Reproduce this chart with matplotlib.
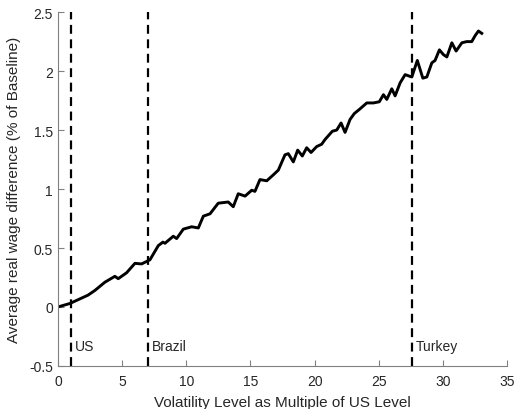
import matplotlib
matplotlib.use("Agg")
import matplotlib.pyplot as plt

plt.rcParams['font.family'] = ['Liberation Sans', 'DejaVu Sans']

x_vals = [0.00, 0.94, 2.34, 2.88, 3.66, 4.44, 4.70, 5.35, 6.00, 6.52, 7.17, 7.82, 8.18,
          8.34, 8.99, 9.25, 9.77, 10.42, 10.94, 11.33, 11.85, 12.49, 13.27, 13.66, 14.05,
          14.58, 15.10, 15.35, 15.74, 16.27, 16.78, 17.17, 17.69, 17.95, 18.34, 18.68,
          19.04, 19.38, 19.72, 20.16, 20.55, 20.81, 21.38, 21.72, 22.06, 22.37, 22.76,
          23.09, 23.54, 24.06, 24.58, 25.04, 25.36, 25.62, 26.01, 26.27, 26.66, 27.05,
          27.57, 28.00, 28.43, 28.74, 29.13, 29.38, 29.72, 30.03, 30.30, 30.69, 31.02,
          31.47, 31.85, 32.24, 32.50, 32.76, 33.02]
y_vals = [0.00, 0.03, 0.10, 0.14, 0.21, 0.26, 0.24, 0.29, 0.37, 0.365, 0.40, 0.52, 0.55,
          0.54, 0.60, 0.58, 0.66, 0.68, 0.67, 0.77, 0.79, 0.88, 0.89, 0.85, 0.96,
          0.94, 0.99, 0.98, 1.08, 1.07, 1.12, 1.16, 1.29, 1.30, 1.23, 1.33,
          1.28, 1.35, 1.31, 1.36, 1.38, 1.42, 1.49, 1.50, 1.56, 1.48, 1.59,
          1.64, 1.68, 1.73, 1.73, 1.74, 1.80, 1.76, 1.85, 1.79, 1.90, 1.97,
          1.95, 2.09, 1.94, 1.95, 2.07, 2.09, 2.18, 2.14, 2.12, 2.24, 2.17,
          2.24, 2.25, 2.25, 2.30, 2.34, 2.32]

country_names = ["US", "Brazil", "Turkey"]
country_levels = [1.0, 7.0, 27.6]

x_ticks = [0, 5, 10, 15, 20, 25, 30, 35]
y_ticks = [-0.5, 0, 0.5, 1, 1.5, 2, 2.5]
y_tick_labels = ["-0.5", "0", "0.5", "1", "1.5", "2", "2.5"]

fig = plt.figure(figsize=(5.17, 4.10), dpi=100)
ax = fig.add_axes([0.112, 0.105, 0.869, 0.863])

ax.plot(x_vals, y_vals, color='black', linewidth=2.1)
for name, lvl in zip(country_names, country_levels):
    ax.axvline(lvl, color='black', linestyle=(0, (4, 2.5)), linewidth=1.6)
    ax.text(lvl + 0.3, -0.33, name, fontsize=10, color='#262626', va='center', ha='left')

ax.set_xlim(0, 35)
ax.set_ylim(-0.5, 2.5)
ax.set_xticks(x_ticks)
ax.set_yticks(y_ticks)
ax.set_yticklabels(y_tick_labels)
for s in ['top', 'right']:
    ax.spines[s].set_visible(False)
for s in ['left', 'bottom']:
    ax.spines[s].set_color('#808080')
    ax.spines[s].set_linewidth(0.8)
ax.tick_params(direction='in', length=4, colors='#808080', labelcolor='#262626', labelsize=10)
ax.tick_params(axis='x', pad=6)
ax.set_xlabel("Volatility Level as Multiple of US Level", fontsize=11, color='#262626', labelpad=5)
ax.set_ylabel("Average real wage difference (% of Baseline)", fontsize=11, color='#262626', labelpad=6)

fig.savefig("out.png", dpi=100)
